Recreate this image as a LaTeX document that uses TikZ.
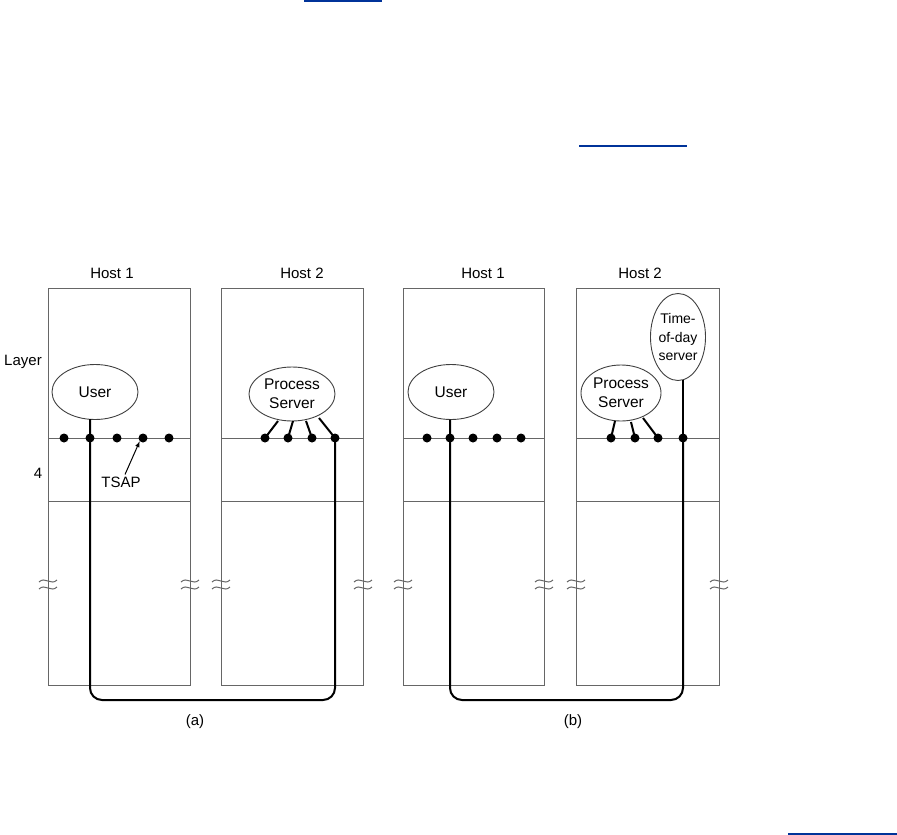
\documentclass[tikz,border=0pt]{standalone}
\usepackage{fontspec}
\setmainfont{Liberation Sans}
\usetikzlibrary{shapes.geometric}
\definecolor{linkblue}{RGB}{0,51,153}
\begin{document}
\begin{tikzpicture}[x=1pt,y=-1pt,
  box/.style={draw=black!60, line width=1pt},
  brk/.style={draw=black!60, line width=1pt},
  proc/.style={ellipse, draw=black!75, line width=0.9pt, inner sep=0pt, align=center,
    font=\fontsize{15.5}{19}\selectfont},
  tdot/.style={circle, fill=black, inner sep=0pt, minimum size=9pt},
  conn/.style={line width=2pt},
  lbl/.style={font=\fontsize{15}{18}\selectfont, inner sep=0pt},
  link/.style={draw=linkblue, line width=2pt}]
\useasboundingbox (0,0) rectangle (897,835);

% link underlines
\draw[link] (304,1) -- (382,1);
\draw[link] (579,146) -- (687,146);
\draw[link] (788,834) -- (897,834);

% host boxes
\foreach \l/\r in {48/190, 221/363, 403/544, 576/719}{
  \draw[box] (\l,288) rectangle (\r,685);
  \draw[box] (\l,438) -- (\r,438);
  \draw[box] (\l,501) -- (\r,501);
  \foreach \xx in {\l,\r}{
    \draw[brk] (\xx-9,582) .. controls (\xx-3,576) and (\xx+3,586) .. (\xx+9,580);
    \draw[brk] (\xx-9,589) .. controls (\xx-3,583) and (\xx+3,593) .. (\xx+9,587);
  }
}

% titles
\node[lbl] (h1a) at (112,273) {Host 1};
\node[lbl] (h2a) at (302,273) {Host 2};
\node[lbl] (h1b) at (483,273) {Host 1};
\node[lbl] (h2b) at (640,273) {Host 2};
\node[lbl] (layer) at (23,362) {Layer};
\node[lbl] (four) at (38,473) {4};
\node[lbl] (tsap) at (121,482) {TSAP};
\node[lbl] (capa) at (195,722) {(a)};
\node[lbl] (capb) at (573,722) {(b)};

% (a) host 1
\node[proc, minimum width=86pt, minimum height=55pt] (userA) at (95,392) {User};
\foreach \i/\xx in {1/64, 2/90, 3/117, 4/143, 5/169}
  \node[tdot] (a\i) at (\xx,438) {};
\draw[->, >=latex, line width=1pt] (tsap.north) ++(4,-2) coordinate (tsA) -- (a4.south west);

% (a) host 2
\node[proc, minimum width=86pt, minimum height=54pt] (psA) at (292,394) {Process\\Server};
\foreach \i/\xx in {1/265, 2/288, 3/312, 4/335}
  \node[tdot] (p\i) at (\xx,438) {};
\draw[conn] (278,421) -- (p1.center);
\draw[conn] (293,421) -- (p2.center);
\draw[conn] (306,421) -- (p3.center);
\draw[conn] (319,418) -- (p4.center);

% (a) connection
\coordinate (ua) at (90,419);
\coordinate (ca1) at (90,700);
\coordinate (ca2) at (335,700);
\draw[conn, rounded corners=12pt] (ua) -- (a2.center) -- (ca1) -- (ca2) -- (p4.center);

% (b) host 1
\node[proc, minimum width=86pt, minimum height=55pt] (userB) at (451,392) {User};
\foreach \i/\xx in {1/427, 2/450, 3/473, 4/497, 5/521}
  \node[tdot] (b\i) at (\xx,438) {};

% (b) host 2
\node[proc, minimum width=80pt, minimum height=56pt] (psB) at (621,393) {Process\\Server};
\node[proc, minimum width=50pt, minimum height=87pt, font=\fontsize{14}{18.5}\selectfont] (tod) at (678,337) {Time-\\of-day\\server};
\foreach \i/\xx in {1/611, 2/635, 3/658, 4/683}
  \node[tdot] (q\i) at (\xx,438) {};
\draw[conn] (615,421) -- (q1.center);
\draw[conn] (631,422) -- (q2.center);
\draw[conn] (643,418) -- (q3.center);
\coordinate (todb) at (683,380);
\draw[conn] (todb) -- (q4.center);

% (b) connection
\coordinate (ub) at (450,419.5);
\coordinate (cb1) at (450,700);
\coordinate (cb2) at (683,700);
\draw[conn, rounded corners=12pt] (ub) -- (b2.center) -- (cb1) -- (cb2) -- (q4.center);
\end{tikzpicture}
\end{document}
